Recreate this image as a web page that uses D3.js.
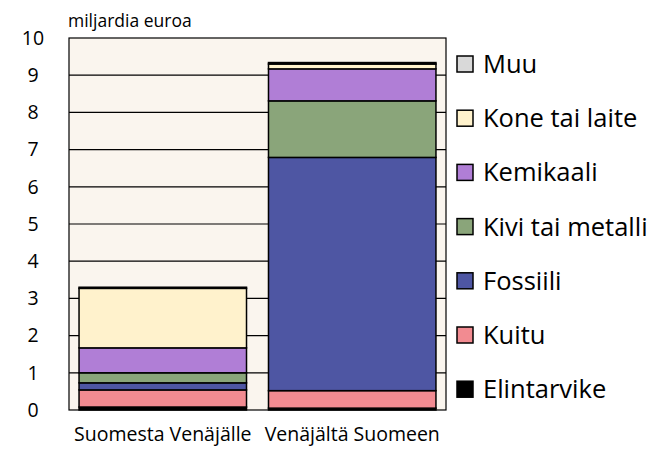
<!DOCTYPE html>
<html>
<head>
<meta charset="utf-8">
<script src="https://cdn.jsdelivr.net/npm/d3@7"></script>
<style>
body { margin: 0; background: #fff; }
text { font-family: "Open Sans", sans-serif; }
</style>
</head>
<body>
<script>
// * Data
const groups = ["Suomesta Venäjälle", "Venäjältä Suomeen"];
const categories = ["Elintarvike", "Kuitu", "Fossiili", "Kivi tai metalli", "Kemikaali", "Kone tai laite", "Muu"];
const elintarvike = [0.08, 0.05];
const kuitu = [0.46, 0.47];
const fossiili = [0.19, 6.27];
const kivi = [0.27, 1.52];
const kemikaali = [0.67, 0.86];
const kone = [1.6, 0.13];
const muu = [0.03, 0.04];
const yTicks = [0, 1, 2, 3, 4, 5, 6, 7, 8, 9, 10];

const colors = ["#000000", "#F28B91", "#4E56A3", "#8AA57A", "#B07ED6", "#FFF2CC", "#D9D9D9"];

// * Size & Margins
const width = 664;
const height = 450;
const margin = { top: 38, right: 218, bottom: 40, left: 69 };

const svg = d3.select("body").append("svg")
	.attr("width", width)
	.attr("height", height);

const series = [elintarvike, kuitu, fossiili, kivi, kemikaali, kone, muu];
const table = groups.map((g, i) => {
	const row = { group: g };
	categories.forEach((c, j) => (row[c] = series[j][i]));
	return row;
});
const stacked = d3.stack().keys(categories)(table);

const x = d3.scaleBand()
	.domain(groups)
	.range([margin.left, width - margin.right])
	.paddingInner(0.116)
	.paddingOuter(0.053);

const y = d3.scaleLinear()
	.domain([0, 10])
	.range([height - margin.bottom, margin.top]);

const color = d3.scaleOrdinal().domain(categories).range(colors);

// * Plot background
svg.append("rect")
	.attr("x", margin.left)
	.attr("y", margin.top)
	.attr("width", width - margin.left - margin.right)
	.attr("height", height - margin.top - margin.bottom)
	.attr("fill", "#FAF5EE");

// * Gridlines
svg.append("g")
	.selectAll("line")
	.data(yTicks.slice(1, -1))
	.join("line")
	.attr("x1", margin.left)
	.attr("x2", width - margin.right)
	.attr("y1", (d) => y(d))
	.attr("y2", (d) => y(d))
	.attr("stroke", "#000")
	.attr("stroke-width", 1.2);

// * Bars
svg.append("g")
	.selectAll("g")
	.data(stacked)
	.join("g")
	.attr("fill", (d) => color(d.key))
	.selectAll("rect")
	.data((d) => d)
	.join("rect")
	.attr("x", (d) => x(d.data.group))
	.attr("y", (d) => y(d[1]))
	.attr("width", x.bandwidth())
	.attr("height", (d) => y(d[0]) - y(d[1]))
	.attr("stroke", "#000")
	.attr("stroke-width", 1.5);

// * Plot border
svg.append("rect")
	.attr("x", margin.left)
	.attr("y", margin.top)
	.attr("width", width - margin.left - margin.right)
	.attr("height", height - margin.top - margin.bottom)
	.attr("fill", "none")
	.attr("stroke", "#000")
	.attr("stroke-width", 1.2);

// * Axes
const yAxis = svg.append("g")
	.attr("transform", `translate(${margin.left},0)`)
	.call(d3.axisLeft(y).tickValues(yTicks).tickSize(0));
yAxis.select(".domain").remove();
yAxis.selectAll(".tick text")
	.attr("font-size", "19.5px")
	.attr("font-family", "Open Sans, sans-serif")
	.attr("fill", "#000")
	.attr("text-anchor", "middle")
	.attr("x", -36);

const xAxis = svg.append("g")
	.attr("transform", `translate(0,${height - margin.bottom})`)
	.call(d3.axisBottom(x).tickSize(0).tickPadding(17));
xAxis.select(".domain").remove();
xAxis.selectAll("text")
	.attr("font-size", "19.5px")
	.attr("font-family", "Open Sans, sans-serif")
	.attr("fill", "#000");

// * Unit label
svg.append("text")
	.attr("x", 68)
	.attr("y", 27)
	.attr("font-size", "17.5px")
	.text("miljardia euroa");

// * Legend
const legend = svg.append("g")
	.selectAll("g")
	.data(categories.slice().reverse())
	.join("g")
	.attr("transform", (d, i) => `translate(457, ${64 + i * 54.2})`);

legend.append("rect")
	.attr("x", 0)
	.attr("y", -8)
	.attr("width", 16)
	.attr("height", 16)
	.attr("fill", (d) => color(d))
	.attr("stroke", "#000")
	.attr("stroke-width", 1.5);

legend.append("text")
	.attr("x", 26)
	.attr("y", 0)
	.attr("dy", "0.35em")
	.attr("font-size", "25.5px")
	.text((d) => d);
</script>
</body>
</html>
